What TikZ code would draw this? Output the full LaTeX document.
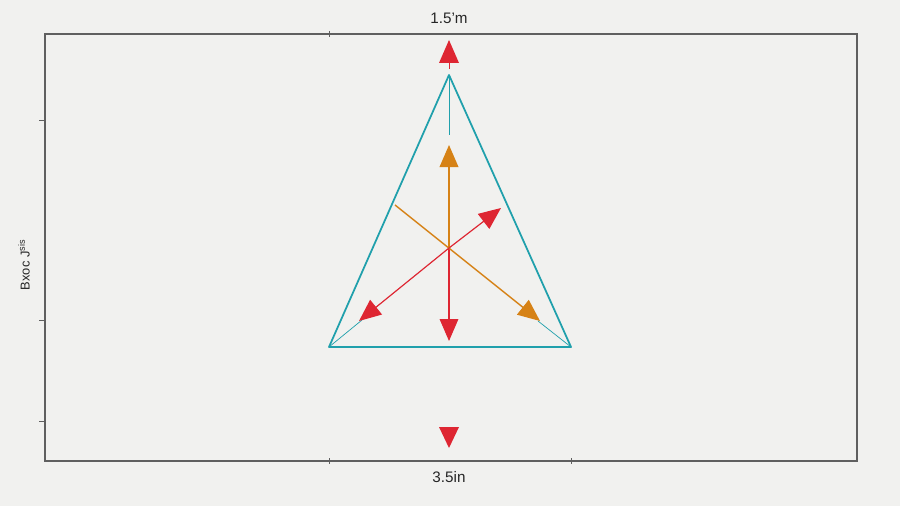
\documentclass[tikz,border=0pt]{standalone}
\usepackage{fontspec}
\setmainfont{Liberation Sans}
\usetikzlibrary{arrows.meta}
\definecolor{bg}{RGB}{241,241,239}
\definecolor{frame}{RGB}{95,95,95}
\definecolor{triteal}{RGB}{32,160,172}
\definecolor{redA}{RGB}{222,38,50}
\definecolor{orgA}{RGB}{214,130,22}
\tikzset{
  framel/.style={draw=frame, line width=1pt},
  tickl/.style={draw=frame, line width=0.8pt},
  tri/.style={draw=triteal, line width=1.5pt, line join=round},
  guide/.style={draw=triteal, line width=0.6pt},
  redarr/.style={draw=redA, line width=1pt, -{Triangle[length=0.66cm,width=0.56cm]}, fill=redA},
  orgarr/.style={draw=orgA, line width=1.2pt, -{Triangle[length=0.66cm,width=0.56cm]}, fill=orgA},
  lbl/.style={font=\fontsize{13}{15}\selectfont, text=black!85},
}
\begin{document}
\begin{tikzpicture}[x=0.03cm,y=-0.03cm]
\fill[bg] (0,0) rectangle (900,506);
\useasboundingbox (0,0) rectangle (900,506);
% frame
\coordinate (TL) at (45,34);
\coordinate (BR) at (857,461);
\draw[framel] (TL) rectangle (BR);
% ticks
\draw[tickl] (329,31) -- (329,37);
\draw[tickl] (329,458) -- (329,464);
\draw[tickl] (571,458) -- (571,464);
\draw[tickl] (39,120) -- (45,120);
\draw[tickl] (39,320) -- (45,320);
\draw[tickl] (39,421) -- (45,421);
% labels
\node[lbl] (top) at (449,18) {1.5'm};
\node[lbl] (bot) at (449,477) {3.5in};
\node[lbl, rotate=90, font=\fontsize{11}{13}\selectfont] (left) at (24,265) {Bxoc J\textsuperscript{sis}};
% triangle
\coordinate (A) at (449,75);
\coordinate (B) at (329,347);
\coordinate (C) at (571,347);
\coordinate (O) at (449,248);
\draw[tri] (A) -- (C) -- (B) -- cycle;
% thin guides
\coordinate (Ag) at (449,135);
\coordinate (Bg) at (362,320);
\coordinate (Cg) at (538,321);
\draw[guide] (A) -- (Ag);
\draw[guide] (B) -- (Bg);
\draw[guide] (C) -- (Cg);
% arrows from centre
\coordinate (Up) at (449,145);
\coordinate (Dn) at (449,341);
\coordinate (UL) at (395,205);
\coordinate (DR) at (540,321);
\coordinate (DL) at (359,321);
\coordinate (UR) at (501,208);
\draw[orgarr] (O) -- (Up);
\draw[redarr] (O) -- (Dn);
\draw[orgarr] (UL) -- (DR);
\draw[redarr] (O) -- (DL);
\draw[redarr] (O) -- (UR);
% isolated red markers
\coordinate (T1) at (449,40);
\fill[redA] (T1) -- (459,63) -- (439,63) -- cycle;
\draw[redA, line width=0.8pt] (449,63) -- (449,69);
\coordinate (T2) at (449,448);
\fill[redA] (T2) -- (459,427) -- (439,427) -- cycle;
\end{tikzpicture}
\end{document}
